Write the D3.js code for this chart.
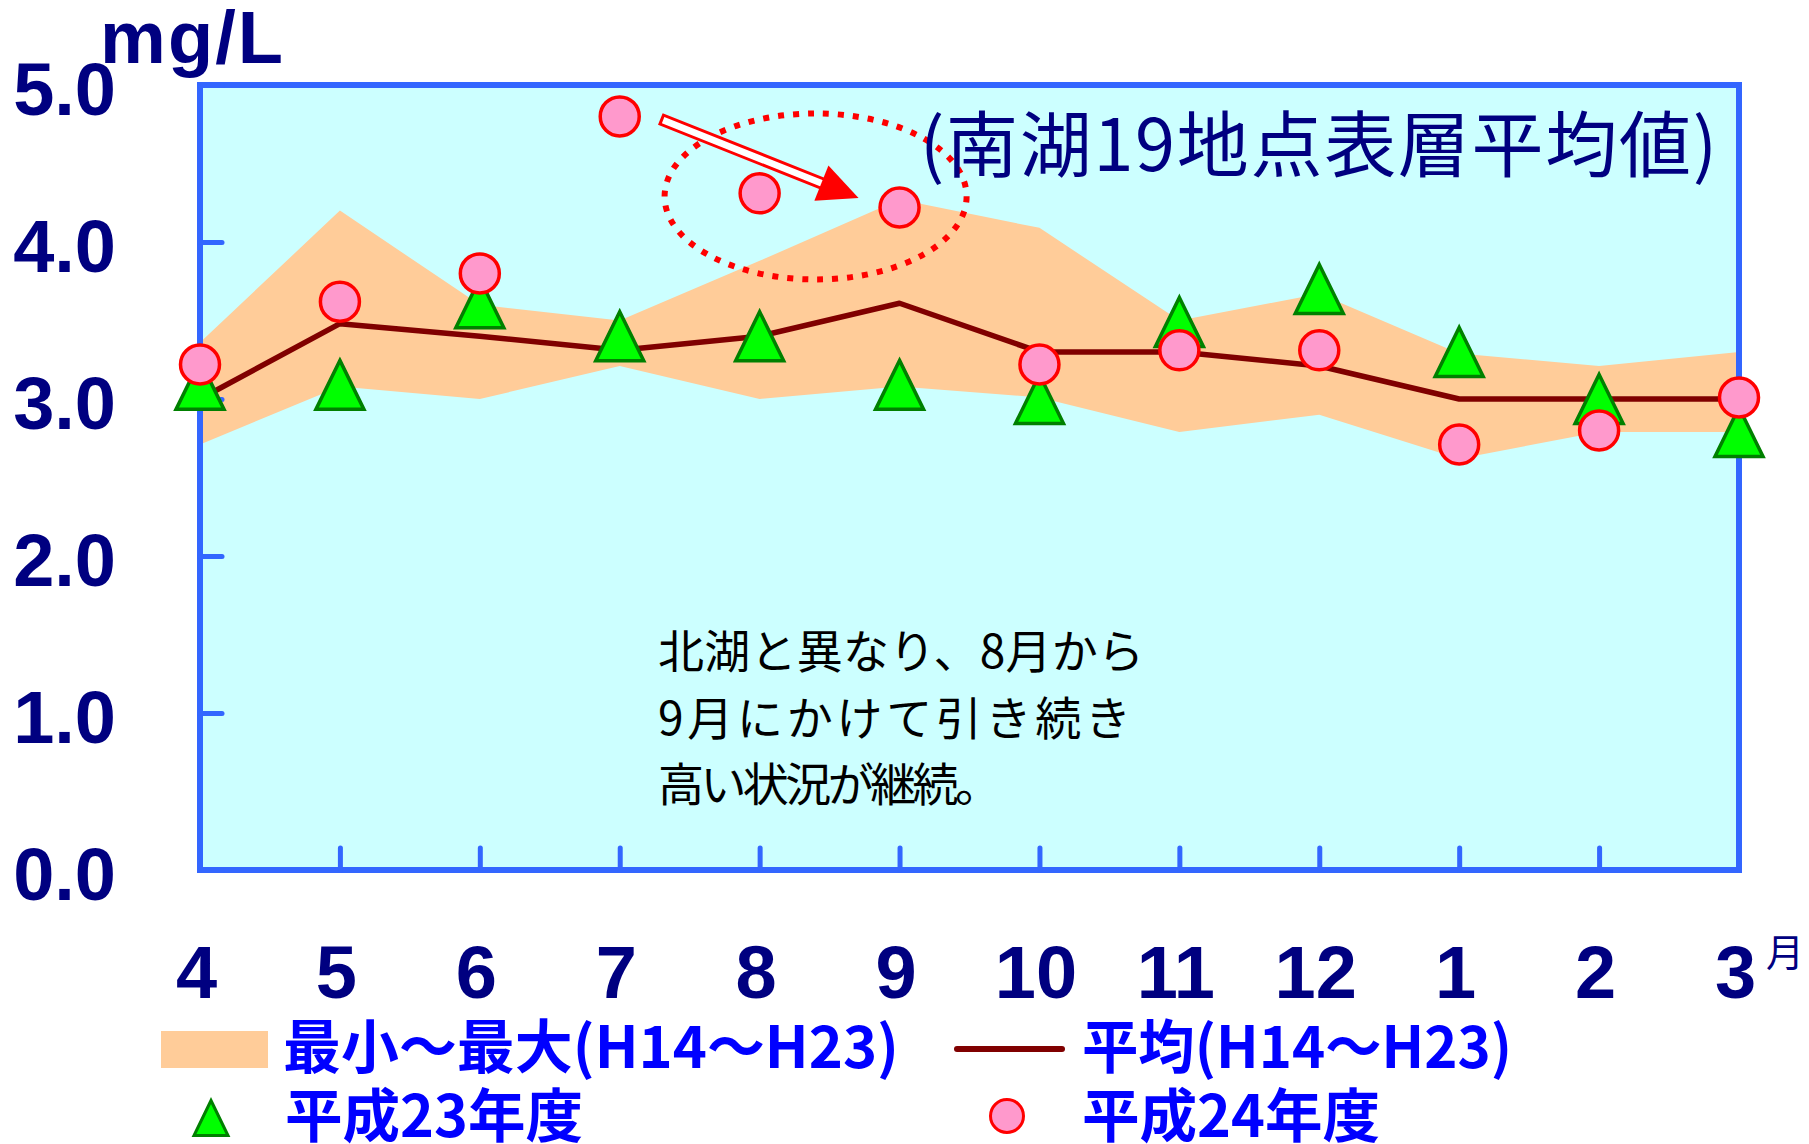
<!DOCTYPE html>
<html>
<head>
<meta charset="utf-8">
<script src="https://cdn.jsdelivr.net/npm/d3@7"></script>
<style>
  html, body { margin: 0; padding: 0; background: #ffffff; }
  svg { display: block; }
</style>
</head>
<body>
<svg id="chart" width="1809" height="1144"></svg>
<script>
// Months of the fiscal year (April to March)
const months = ["4", "5", "6", "7", "8", "9", "10", "11", "12", "1", "2", "3"];

// H14-H23 range (min / max) and mean, mg/L
const rangeMax = [3.36, 4.20, 3.60, 3.50, 3.88, 4.27, 4.09, 3.50, 3.67, 3.29, 3.21, 3.30];
const rangeMin = [2.71, 3.08, 3.00, 3.21, 3.00, 3.08, 3.01, 2.79, 2.90, 2.62, 2.79, 2.79];
const meanH14H23 = [3.00, 3.48, 3.40, 3.31, 3.40, 3.61, 3.30, 3.30, 3.21, 3.00, 3.00, 3.00];

// Fiscal year H23 and H24 monthly values, mg/L
const valuesH23 = [3.09, 3.09, 3.61, 3.40, 3.40, 3.09, 3.00, 3.49, 3.70, 3.30, 3.00, 2.79];
const valuesH24 = [3.22, 3.62, 3.80, 4.80, 4.31, 4.22, 3.22, 3.31, 3.31, 2.71, 2.80, 3.01];

// Y axis ticks
const yTicks = [0, 1, 2, 3, 4, 5];

// Text
const unitLabel = "mg/L";
const monthUnit = "月";
const titleText = "(南湖19地点表層平均値)";
const noteLines = ["北湖と異なり、8月から", "9月にかけて引き続き", "高い状況が継続。"];
const legendRange = "最小～最大(H14～H23)";
const legendMean = "平均(H14～H23)";
const legendH23 = "平成23年度";
const legendH24 = "平成24年度";

const NUM_FONT = "'Liberation Sans', Arial, sans-serif";
const CJK_FONT = "'Noto Sans CJK JP', 'Noto Sans', sans-serif";
const NAVY = "#000080";
const AXIS_BLUE = "#3366FF";

const svg = d3.select("#chart");
const plot = { left: 200, right: 1739, top: 85, bottom: 870 };

const x = d3.scalePoint().domain(months).range([plot.left, plot.right]);
const y = d3.scaleLinear().domain([0, 5]).range([plot.bottom, plot.top]);

const rows = months.map((m, i) => ({
  m, max: rangeMax[i], min: rangeMin[i], mean: meanH14H23[i], a: valuesH23[i], b: valuesH24[i]
}));

// plot background
svg.append("rect")
  .attr("x", plot.left).attr("y", plot.top)
  .attr("width", plot.right - plot.left).attr("height", plot.bottom - plot.top)
  .attr("fill", "#CCFFFF");

// min-max band
svg.append("path")
  .datum(rows)
  .attr("fill", "#FFCC99")
  .attr("d", d3.area().x(d => x(d.m)).y0(d => y(d.min)).y1(d => y(d.max)));

// mean line
svg.append("path")
  .datum(rows)
  .attr("fill", "none")
  .attr("stroke", "#800000")
  .attr("stroke-width", 5.5)
  .attr("stroke-linejoin", "round")
  .attr("d", d3.line().x(d => x(d.m)).y(d => y(d.mean)));

// plot frame
svg.append("rect")
  .attr("x", plot.left).attr("y", plot.top)
  .attr("width", plot.right - plot.left).attr("height", plot.bottom - plot.top)
  .attr("fill", "none")
  .attr("stroke", AXIS_BLUE)
  .attr("stroke-width", 6);

// y axis
const yAxis = svg.append("g")
  .attr("transform", `translate(${plot.left},0)`)
  .call(d3.axisLeft(y).tickValues(yTicks).tickSizeInner(-22).tickSizeOuter(0)
    .tickPadding(84).tickFormat(d3.format(".1f")));
yAxis.select(".domain").remove();
yAxis.selectAll(".tick line")
  .attr("stroke", AXIS_BLUE).attr("stroke-width", 5).attr("stroke-linecap", "round");
yAxis.selectAll(".tick text")
  .attr("dy", "0.4em")
  .attr("fill", NAVY)
  .style("font-family", NUM_FONT)
  .style("font-weight", "bold")
  .style("font-size", "74px");

// x axis
const xAxis = svg.append("g")
  .attr("transform", `translate(0,${plot.bottom})`)
  .call(d3.axisBottom(x).tickSizeInner(-22).tickSizeOuter(0).tickPadding(75));
xAxis.select(".domain").remove();
xAxis.selectAll(".tick line")
  .attr("stroke", AXIS_BLUE).attr("stroke-width", 5).attr("stroke-linecap", "round");
xAxis.selectAll(".tick text")
  .attr("dx", -4)
  .attr("fill", NAVY)
  .style("font-family", NUM_FONT)
  .style("font-weight", "bold")
  .style("font-size", "74px");

// month unit
svg.append("text")
  .attr("x", x("3") + 27).attr("y", 966)
  .attr("fill", NAVY)
  .style("font-family", CJK_FONT)
  .style("font-size", "38px")
  .text(monthUnit);

// value unit
svg.append("text")
  .attr("x", 100).attr("y", 63)
  .attr("fill", NAVY)
  .attr("textLength", 183).attr("lengthAdjust", "spacing")
  .style("font-family", NUM_FONT)
  .style("font-weight", "bold")
  .style("font-size", "74px")
  .text(unitLabel);

// triangle marker path, box-centred
const triPath = (w, h) => `M0,${-h / 2}L${w / 2},${h / 2}L${-w / 2},${h / 2}Z`;

// H23 triangles
svg.append("g").selectAll("path")
  .data(rows).join("path")
  .attr("transform", d => `translate(${x(d.m)},${y(d.a)})`)
  .attr("d", triPath(48, 49))
  .attr("fill", "#00FF00")
  .attr("stroke", "#008000")
  .attr("stroke-width", 3.5);

// H24 circles
svg.append("g").selectAll("circle")
  .data(rows).join("circle")
  .attr("cx", d => x(d.m)).attr("cy", d => y(d.b))
  .attr("r", 19.5)
  .attr("fill", "#FF99CC")
  .attr("stroke", "#FF0000")
  .attr("stroke-width", 3.5);

// dotted ellipse around the August-September values
const step = x.step();
svg.append("ellipse")
  .attr("cx", x("8") + step * 0.4).attr("cy", y(4.29))
  .attr("rx", 151).attr("ry", 83)
  .attr("fill", "none")
  .attr("stroke", "#FF0000")
  .attr("stroke-width", 6)
  .attr("stroke-dasharray", "6,9");

// double-line arrow from July towards September
const ax0 = x("7") + 42, ay0 = y(4.78);
const ax1 = x("9") - 41, ay1 = y(4.28);
const ang = Math.atan2(ay1 - ay0, ax1 - ax0) * 180 / Math.PI;
const len = Math.hypot(ax1 - ax0, ay1 - ay0);
const arrow = svg.append("g").attr("transform", `translate(${ax0},${ay0}) rotate(${ang})`);
arrow.append("rect")
  .attr("x", 0).attr("y", -4.8).attr("width", len - 36).attr("height", 9.6)
  .attr("fill", "#FFFFFF").attr("stroke", "#FF0000").attr("stroke-width", 3);
arrow.append("path")
  .attr("d", `M${len - 40},-19L${len},0L${len - 40},19Z`)
  .attr("fill", "#FF0000");

// title
svg.append("text")
  .attr("x", 920).attr("y", 171)
  .attr("fill", NAVY)
  .attr("textLength", 797).attr("lengthAdjust", "spacing")
  .style("font-family", CJK_FONT)
  .style("font-size", "72px")
  .text(titleText);

// note
const noteY = [668, 735, 801];
const noteW = [486, 473, 343];
svg.append("g").selectAll("text")
  .data(noteLines).join("text")
  .attr("x", 658).attr("y", (d, i) => noteY[i])
  .attr("textLength", (d, i) => noteW[i]).attr("lengthAdjust", "spacing")
  .attr("fill", "#000000")
  .style("font-family", CJK_FONT)
  .style("font-size", "46px")
  .text(d => d);

// legend
const lg = svg.append("g");
const legendText = (tx, ty, w, s) => lg.append("text")
  .attr("x", tx).attr("y", ty)
  .attr("textLength", w).attr("lengthAdjust", "spacingAndGlyphs")
  .attr("fill", "#0000FF")
  .style("font-family", CJK_FONT)
  .style("font-weight", "bold")
  .style("font-size", "58px")
  .text(s);

lg.append("rect")
  .attr("x", 161).attr("y", 1031).attr("width", 107).attr("height", 37)
  .attr("fill", "#FFCC99");
legendText(283, 1068, 616, legendRange);

lg.append("line")
  .attr("x1", 957).attr("x2", 1062).attr("y1", 1049).attr("y2", 1049)
  .attr("stroke", "#800000").attr("stroke-width", 6).attr("stroke-linecap", "round");
legendText(1082, 1068, 430, legendMean);

lg.append("path")
  .attr("transform", "translate(211,1118)")
  .attr("d", triPath(34, 35))
  .attr("fill", "#00FF00").attr("stroke", "#008000").attr("stroke-width", 3);
legendText(285, 1137, 298, legendH23);

lg.append("circle")
  .attr("cx", 1007).attr("cy", 1116).attr("r", 16.5)
  .attr("fill", "#FF99CC").attr("stroke", "#FF0000").attr("stroke-width", 3);
legendText(1082, 1137, 298, legendH24);
</script>
</body>
</html>
